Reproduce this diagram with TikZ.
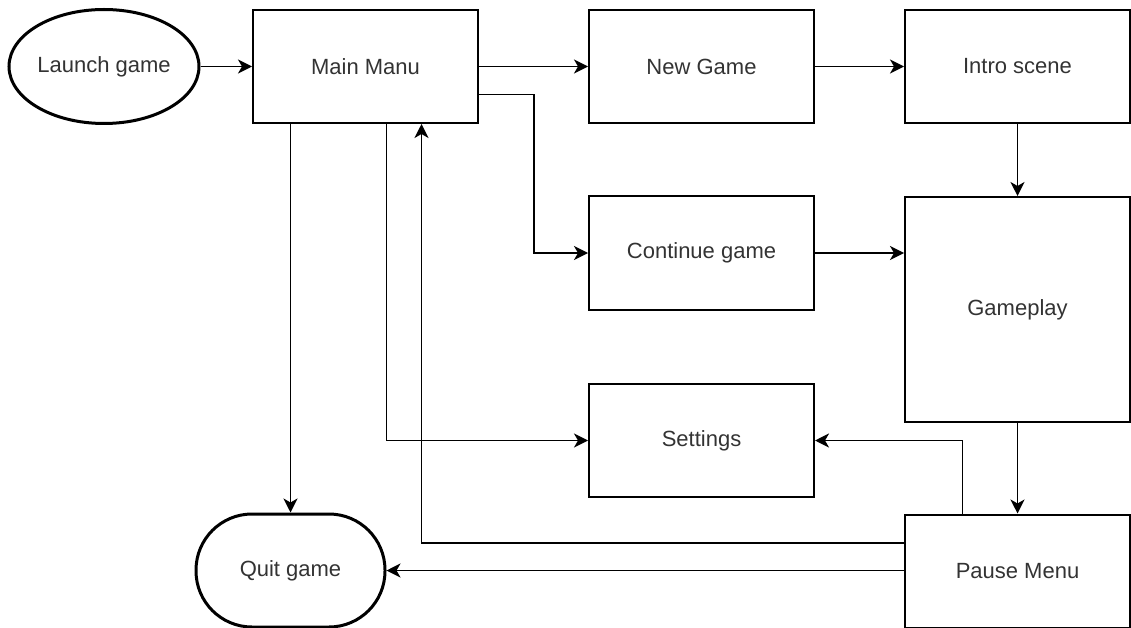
\documentclass[tikz,border=0pt]{standalone}
\usepackage{fontspec}
\setmainfont{Liberation Sans}
\usetikzlibrary{arrows.meta,shapes.geometric}

\begin{document}
\begin{tikzpicture}[x=1pt, y=-1pt,
        font=\fontsize{22}{26}\selectfont,
        box/.style={draw, line width=2pt, minimum width=225pt, minimum height=113pt, inner sep=0pt, text=black!80},
        terminal/.style={draw, ellipse, line width=3pt, minimum width=190pt, minimum height=114pt, inner sep=0pt, text=black!80},
        stadium/.style={draw, rectangle, rounded corners=56pt, line width=3pt, minimum width=189pt, minimum height=113pt, inner sep=0pt, text=black!80},
        arr/.style={line width=1.8pt, -{Stealth[length=14pt, width=14pt, inset=4pt]}}]
            %\draw[lightgray] (0, 0) grid[step=50] (1131, 628);
            \useasboundingbox (0, 0) rectangle (1131, 628);
            \node[terminal] (launch) at (104, 66.5) {Launch game};
            \node[box] (main) at (365.5, 66.5) {Main Manu};
            \node[box] (newgame) at (701.5, 66.5) {New Game};
            \node[box] (intro) at (1017.5, 66.5) {Intro scene};
            \node[box] (continue) at (701.5, 253) {Continue game};
            \node[box, minimum height=225pt] (gameplay) at (1017.5, 309.5) {Gameplay};
            \node[box] (settings) at (701.5, 440.5) {Settings};
            \node[box] (pause) at (1017.5, 571) {Pause Menu};
            \node[stadium] (quit) at (290.5, 570.5) {Quit game};
            \draw[arr] (launch) -- (main);
            \draw[arr] (main) -- (newgame);
            \draw[arr] (newgame) -- (intro);
            \draw[arr] (intro) -- (gameplay);
            \draw[arr] ([yshift=-28pt]main.east) -- ++(55, 0) |- (continue.west);
            \draw[arr] (continue.east) -- (continue.east -| gameplay.west);
            \draw[arr] (gameplay) -- (pause);
            \draw[arr] (main.south -| quit.north) -- (quit.north);
            \draw[arr] (main.south -| quit.east) |- (settings.west);
            \draw[arr] ([xshift=-55pt]pause.north) |- (settings.east);
            \draw[arr] ([yshift=28pt]pause.west) -| ([xshift=56pt]main.south);
            \draw[arr] (pause.west |- quit.east) -- (quit.east);
\end{tikzpicture}
\end{document}
